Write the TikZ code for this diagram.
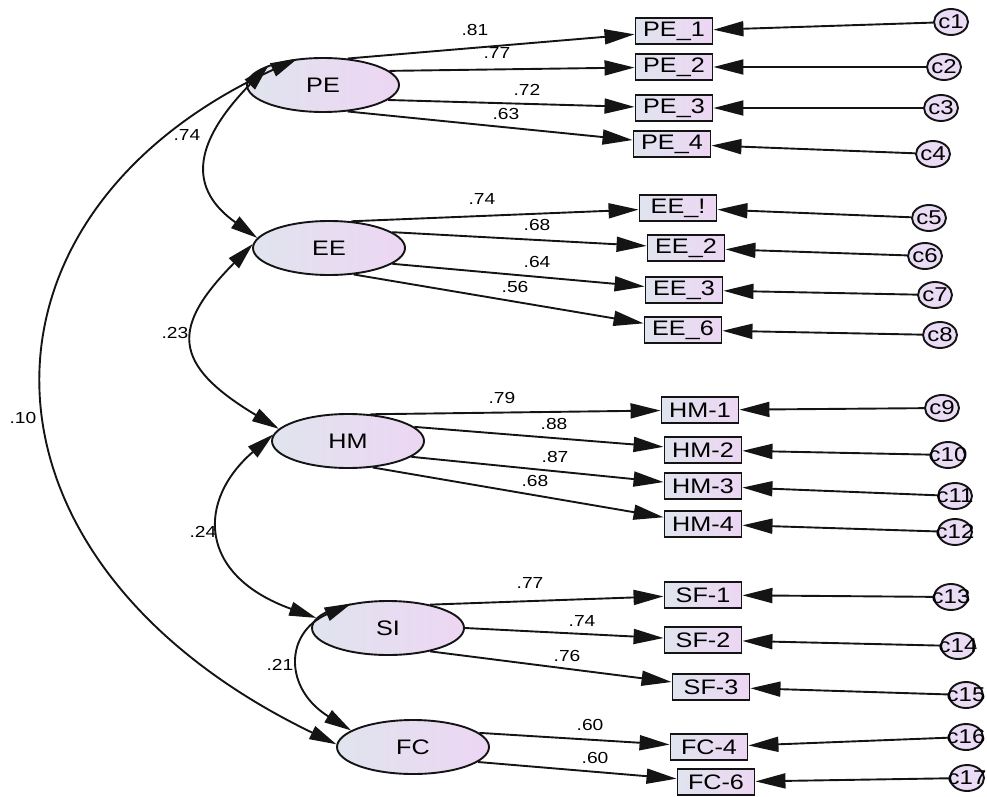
\documentclass[tikz,border=0pt]{standalone}
\usepackage{fontspec}
\setmainfont[FakeStretch=1.2]{Liberation Sans}
\usetikzlibrary{arrows.meta,shapes.geometric}
\definecolor{fillL}{RGB}{224,228,238}
\definecolor{fillR}{RGB}{237,214,243}
\definecolor{errfill}{RGB}{234,220,244}
\definecolor{ink}{RGB}{20,20,20}
\begin{document}
\begin{tikzpicture}[x=1pt,y=-1pt,
  latent/.style={ellipse, draw=ink, line width=1.9pt, minimum width=152pt, minimum height=54pt,
    inner sep=0pt, left color=fillL, right color=fillR, font=\fontsize{21}{24}\selectfont},
  obs/.style={rectangle, draw=ink, line width=1.9pt, minimum width=77pt, minimum height=26pt,
    inner sep=0pt, left color=fillL, right color=fillR, font=\fontsize{21}{24}\selectfont},
  err/.style={ellipse, draw=ink, line width=1.9pt, minimum width=34pt, minimum height=26pt,
    inner sep=0pt, fill=errfill, font=\fontsize{20}{22}\selectfont},
  coef/.style={inner sep=0pt, font=\fontsize{16}{18}\selectfont},
  load/.style={draw=ink, line width=1.9pt, -{Triangle[length=30pt,width=15pt]}},
  cov/.style={draw=ink, line width=1.9pt, {Triangle[length=27pt,width=14pt]}-{Triangle[length=27pt,width=14pt]}}]
\clip (0,0) rectangle (987,797);

% latent factors
\node[latent] (PE) at (323,85) {PE};
\node[latent] (EE) at (329,248) {EE};
\node[latent] (HM) at (348,441) {HM};
\node[latent] (SI) at (388,628) {SI};
\node[latent] (FC) at (413,747) {FC};

% indicators
\node[obs] (PE1) at (674,31) {PE\_1};
\node[obs] (PE2) at (674,67) {PE\_2};
\node[obs] (PE3) at (674,108) {PE\_3};
\node[obs] (PE4) at (672,144) {PE\_4};
\node[obs] (EE1) at (678,208) {EE\_!};
\node[obs] (EE2) at (686,248) {EE\_2};
\node[obs] (EE3) at (684,290) {EE\_3};
\node[obs] (EE6) at (683,330) {EE\_6};
\node[obs] (HM1) at (700,410) {HM-1};
\node[obs] (HM2) at (703,450) {HM-2};
\node[obs] (HM3) at (703,486) {HM-3};
\node[obs] (HM4) at (703,524) {HM-4};
\node[obs] (SF1) at (703,595) {SF-1};
\node[obs] (SF2) at (703,640) {SF-2};
\node[obs] (SF3) at (711,687) {SF-3};
\node[obs] (FC4) at (709,747) {FC-4};
\node[obs] (FC6) at (716,782) {FC-6};

% error terms
\node[err] (c1) at (951,22) {\makebox[0pt]{c1}};
\node[err] (c2) at (944,67) {\makebox[0pt]{c2}};
\node[err] (c3) at (941,108) {\makebox[0pt]{c3}};
\node[err] (c4) at (933,154) {\makebox[0pt]{c4}};
\node[err] (c5) at (929,218) {\makebox[0pt]{c5}};
\node[err] (c6) at (925,256) {\makebox[0pt]{c6}};
\node[err] (c7) at (935,295) {\makebox[0pt]{c7}};
\node[err] (c8) at (940,335) {\makebox[0pt]{c8}};
\node[err] (c9) at (942,408) {\makebox[0pt]{c9}};
\node[err] (c10) at (948,455) {\makebox[0pt]{c10}};
\node[err] (c11) at (955,496) {\makebox[0pt]{c11}};
\node[err] (c12) at (955,532) {\makebox[0pt]{c12}};
\node[err] (c13) at (951,597) {\makebox[0pt]{c13}};
\node[err] (c14) at (958,646) {\makebox[0pt]{c14}};
\node[err] (c15) at (966,695) {\makebox[0pt]{c15}};
\node[err] (c16) at (966,737) {\makebox[0pt]{c16}};
\node[err] (c17) at (967,778) {\makebox[0pt]{c17}};

% factor loadings
\draw[load] (PE.47) -- (PE1);
\draw[load] (PE.12) -- (PE2);
\draw[load] (PE.-13) -- (PE3);
\draw[load] (PE.-47) -- (PE4);
\draw[load] (EE.50) -- (EE1);
\draw[load] (EE.14) -- (EE2);
\draw[load] (EE.-14) -- (EE3);
\draw[load] (EE.-47) -- (EE6);
\draw[load] (HM.50) -- (HM1);
\draw[load] (HM.12) -- (HM2);
\draw[load] (HM.-14) -- (HM3);
\draw[load] (HM.-47) -- (HM4);
\draw[load] (SI.29) -- (SF1);
\draw[load] (SI.0) -- (SF2);
\draw[load] (SI.-29) -- (SF3);
\draw[load] (FC.12) -- (FC4);
\draw[load] (FC.-13) -- (FC6);

% error paths
\foreach \e/\v in {c1/PE1,c2/PE2,c3/PE3,c4/PE4,c5/EE1,c6/EE2,c7/EE3,c8/EE6,
                   c9/HM1,c10/HM2,c11/HM3,c12/HM4,c13/SF1,c14/SF2,c15/SF3,c16/FC4,c17/FC6}
  \draw[load] (\e) -- (\v);

% factor covariances
\draw[cov] (PE.134) .. controls (-45,215) and (-45,560) .. (FC.178);
\draw[cov] (PE.160) .. controls (190,146) and (190,190) .. (EE.172);
\draw[cov] (EE.177) .. controls (171,327) and (171,364) .. (HM.170);
\draw[cov] (HM.175) .. controls (197,500) and (197,575) .. (SI.172);
\draw[cov] (SI.146) .. controls (284,633) and (284,689) .. (FC.165);

% loading estimates
\node[coef] (wPE1) at (475,30) {.81};
\node[coef] (wPE2) at (497,53) {.77};
\node[coef] (wPE3) at (527,90) {.72};
\node[coef] (wPE4) at (506,114) {.63};
\node[coef] (wEE1) at (482,199) {.74};
\node[coef] (wEE2) at (537,225) {.68};
\node[coef] (wEE3) at (537,262) {.64};
\node[coef] (wEE6) at (515,287) {.56};
\node[coef] (wHM1) at (502,398) {.79};
\node[coef] (wHM2) at (554,424) {.88};
\node[coef] (wHM3) at (555,457) {.87};
\node[coef] (wHM4) at (535,481) {.68};
\node[coef] (wSF1) at (530,583) {.77};
\node[coef] (wSF2) at (582,621) {.74};
\node[coef] (wSF3) at (567,656) {.76};
\node[coef] (wFC4) at (590,725) {.60};
\node[coef] (wFC6) at (595,758) {.60};

% covariance estimates
\node[coef] (rPEEE) at (187,135) {.74};
\node[coef] (rEEHM) at (175,333) {.23};
\node[coef] (rPEFC) at (23,418) {.10};
\node[coef] (rHMSI) at (203,532) {.24};
\node[coef] (rSIFC) at (280,665) {.21};
\end{tikzpicture}
\end{document}
